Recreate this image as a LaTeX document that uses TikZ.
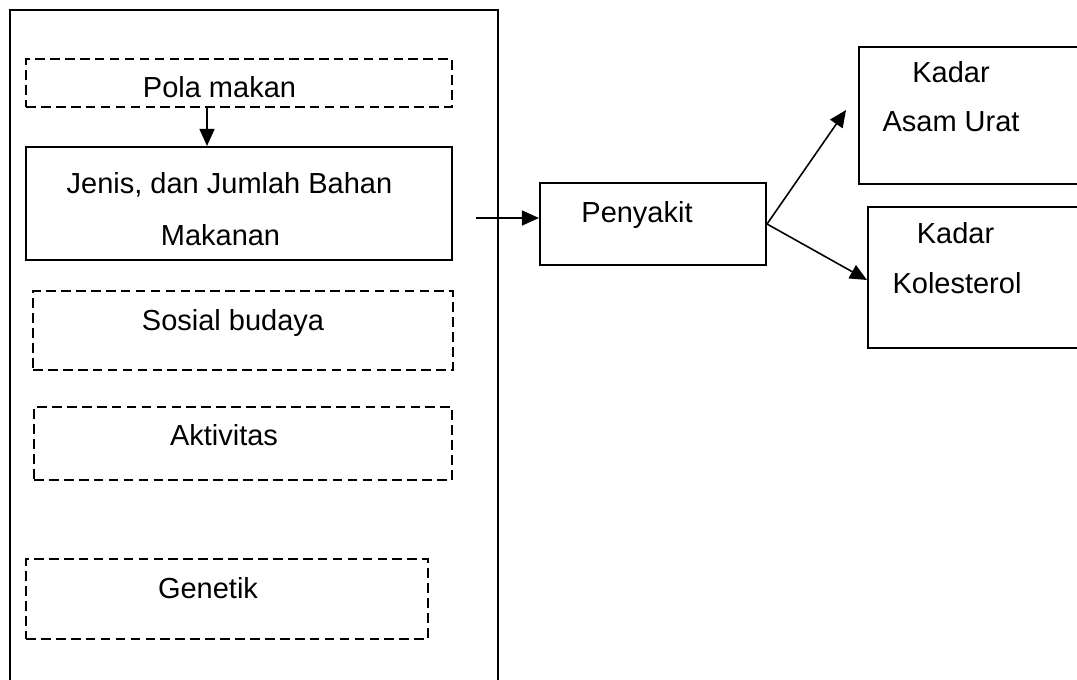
\documentclass[tikz,border=0pt]{standalone}
\usepackage{fontspec}
\setmainfont{Liberation Sans}
\usetikzlibrary{arrows.meta}

\begin{document}
\begin{tikzpicture}[x=0.02cm,y=-0.02cm,
	box/.style={rectangle,draw,line width=1.2pt,inner sep=0pt},
	dashbox/.style={box,dash pattern=on 5.5pt off 3pt},
	txt/.style={anchor=base,inner sep=0pt,font=\fontsize{16.5}{20}\selectfont},
	arr/.style={line width=0.9pt,-{Triangle[length=0.34cm,width=0.3cm]}}]
	\useasboundingbox (0,0) rectangle (1077,679);

	% kotak besar kiri
	\node[box,minimum width=9.76cm,minimum height=13.8cm] at (254,355) (luar) {};

	\node[dashbox,minimum width=8.52cm,minimum height=0.96cm] at (239,83) (pola) {};
	\node[box,minimum width=8.52cm,minimum height=2.26cm] at (239,203.5) (jenis) {};
	\node[dashbox,minimum width=8.4cm,minimum height=1.58cm] at (243,330.5) (sosial) {};
	\node[dashbox,minimum width=8.36cm,minimum height=1.46cm] at (243,443.5) (aktivitas) {};
	\node[dashbox,minimum width=8.04cm,minimum height=1.6cm] at (227,599) (genetik) {};

	\node[box,minimum width=4.52cm,minimum height=1.64cm] at (653,224) (penyakit) {};
	\node[box,minimum width=8.82cm,minimum height=2.74cm] at (1079.5,115.5) (asam) {};
	\node[box,minimum width=8.64cm,minimum height=2.82cm] at (1084,277.5) (kolesterol) {};

	% teks
	\node[txt] at (219.5,97) (polatxt) {Pola makan};
	\node[txt] at (229.5,193) (jenistxt) {Jenis, dan Jumlah Bahan};
	\node[txt] at (220.5,245) (makanantxt) {Makanan};
	\node[txt] at (233,330) (sosialtxt) {Sosial budaya};
	\node[txt] at (224,445) (aktivitastxt) {Aktivitas};
	\node[txt] at (208,598) (genetiktxt) {Genetik};
	\node[txt] at (637,222) (penyakittxt) {Penyakit};
	\node[txt] at (951,83) (kadar1) {Kadar};
	\node[txt] at (951,132) (asamtxt) {Asam Urat};
	\node[txt] at (955.5,243) (kadar2) {Kadar};
	\node[txt] at (957,293) (kolesteroltxt) {Kolesterol};

	\coordinate (mulai) at (476,218);
	\coordinate (ujung1) at (846,110);
	\coordinate (ujung2) at (867,280);

	\draw[arr] ([xshift=-0.64cm]pola.south) -- ([xshift=-0.64cm]jenis.north);
	\draw[arr] (mulai) -- (mulai -| penyakit.west);
	\draw[arr] (penyakit.east) -- (ujung1);
	\draw[arr] (penyakit.east) -- (ujung2);
\end{tikzpicture}
\end{document}
